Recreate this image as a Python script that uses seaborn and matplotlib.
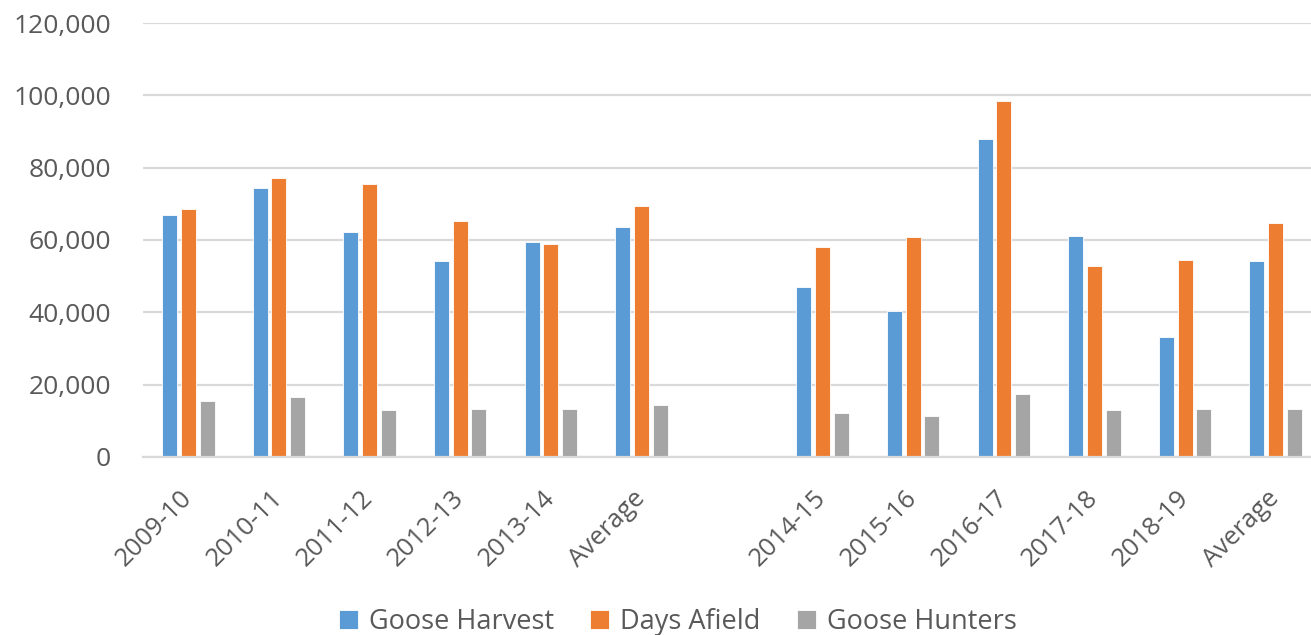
import numpy as np
import pandas as pd
import matplotlib.pyplot as plt
import seaborn as sns

# ==========================================================
# DATA
# ==========================================================

tick_labels = [
    "2009-10", "2010-11", "2011-12", "2012-13", "2013-14", "Average",
    "",
    "2014-15", "2015-16", "2016-17", "2017-18", "2018-19", "Average"
]

goose_harvest = [67000, 74500, 62100, 54100, 59500, 63500, None,
                 47100, 40400, 87900, 61200, 33300, 54100]

days_afield = [68700, 77100, 75400, 65200, 59000, 69300, None,
               58200, 60800, 98400, 52800, 54600, 64800]

goose_hunters = [15600, 16500, 13000, 13400, 13400, 14400, None,
                 12100, 11200, 17500, 13000, 13400, 13400]

series_names = ["Goose Harvest", "Days Afield", "Goose Hunters"]
colors = ["#5B9BD5", "#ED7D31", "#A5A5A5"]

# unique keys so the two "Average" slots stay apart
order = [f"{i}:{lab}" for i, lab in enumerate(tick_labels)]

rows = []
for name, values in zip(series_names, [goose_harvest, days_afield, goose_hunters]):
    for key, v in zip(order, values):
        if v is not None:
            rows.append({"key": key, "series": name, "value": v})

df = pd.DataFrame(rows)

# ==========================================================
# PLOT
# ==========================================================

sns.set_style("white")
plt.rcParams["font.family"] = ["Open Sans", "DejaVu Sans"]

text_color = "#595959"
grid_color = "#D9D9D9"

fig = plt.figure(figsize=(13.11, 6.35), dpi=100)
ax = fig.add_axes([143 / 1311, 1 - 457 / 635, 1 - 143 / 1311, 434 / 635])

sns.barplot(
    data=df,
    x="key",
    y="value",
    hue="series",
    order=order,
    hue_order=series_names,
    palette=colors,
    width=0.62,
    gap=0.2,
    edgecolor="white",
    linewidth=0.6,
    saturation=1,
    ax=ax
)

ax.set_ylim(0, 120000)
ax.set_xlim(-0.5, 12.39)
ax.set_yticks(np.arange(0, 120001, 20000))
ax.set_yticklabels([f"{int(v):,}" for v in np.arange(0, 120001, 20000)])

ax.set_xticks(range(len(tick_labels)))
ax.set_xticklabels(tick_labels, rotation=45, ha="right", va="center",
                   rotation_mode="anchor")

ax.tick_params(axis="both", length=0, labelcolor=text_color)
ax.tick_params(axis="x", pad=27, labelsize=18.5)
ax.tick_params(axis="y", pad=23, labelsize=19)

ax.yaxis.grid(True, color=grid_color, linewidth=1.6)
ax.set_axisbelow(True)

for side in ["top", "right", "left"]:
    ax.spines[side].set_visible(False)
ax.spines["bottom"].set_color(grid_color)
ax.spines["bottom"].set_linewidth(1.6)

ax.set_xlabel("")
ax.set_ylabel("")

handles, labels = ax.get_legend_handles_labels()
ax.get_legend().remove()

fig.legend(
    handles, labels,
    loc="lower center",
    bbox_to_anchor=(0.517, -0.04),
    ncol=3,
    frameon=False,
    fontsize=19.5,
    labelcolor=text_color,
    handlelength=0.7,
    handleheight=0.7,
    handletextpad=0.4,
    columnspacing=1.35
)

fig.savefig("out.png", dpi=100)
plt.close()
